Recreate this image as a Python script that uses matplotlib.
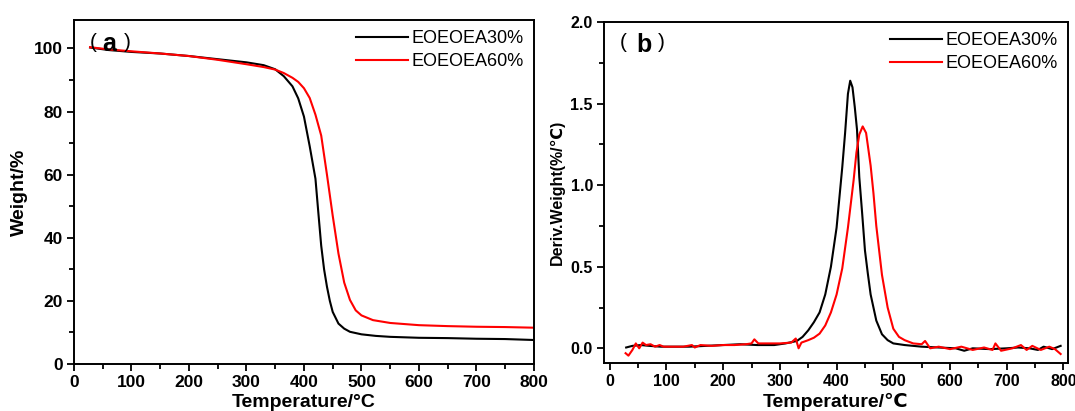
import matplotlib
matplotlib.use('Agg')
import matplotlib.pyplot as plt
from matplotlib.ticker import MultipleLocator

plt.rcParams['font.family'] = ['Liberation Sans', 'DejaVu Sans', 'Noto Sans CJK SC']

labels = ['EOEOEA30%', 'EOEOEA60%']

# TGA: weight remaining vs temperature
tga_t30 = [28, 60, 100, 150, 200, 250, 300, 330, 350, 365, 380, 390, 400, 410, 420,
           425, 430, 435, 440, 445, 450, 460, 470, 480, 500, 525, 550, 600, 650, 700, 750, 800]
tga_w30 = [100.3, 99.5, 98.9, 98.4, 97.6, 96.6, 95.6, 94.7, 93.4, 91.2, 88.0, 84.2, 78.4, 69.0, 58.7,
           48.0, 37.5, 30.0, 24.5, 20.0, 16.5, 12.8, 11.2, 10.2, 9.4, 8.9, 8.6, 8.3, 8.2, 8.0, 7.9, 7.6]
tga_t60 = [28, 60, 100, 150, 200, 250, 300, 330, 350, 365, 380, 390, 400, 410, 420,
           430, 440, 445, 450, 455, 460, 470, 480, 490, 500, 520, 550, 600, 650, 700, 750, 800]
tga_w60 = [100.4, 99.7, 99.1, 98.4, 97.6, 96.4, 95.0, 94.1, 93.3, 92.2, 90.7, 89.4, 87.4, 84.3, 79.0,
           72.4, 60.0, 53.5, 47.0, 41.0, 35.0, 25.8, 20.3, 17.0, 15.4, 13.9, 13.0, 12.3, 12.0, 11.8, 11.7, 11.5]

# DTG: derivative weight vs temperature
dtg_t30 = [29, 40, 55, 70, 90, 110, 140, 170, 200, 230, 260, 290, 310, 330, 340, 350,
           360, 370, 380, 390, 400, 410, 415, 420, 424, 428, 432, 436, 440, 445, 450, 455,
           460, 470, 480, 490, 500, 520, 550, 580, 610, 625, 640, 670, 700, 720, 740, 755,
           765, 780, 795]
dtg_w30 = [0.005, 0.015, 0.02, 0.015, 0.01, 0.01, 0.01, 0.015, 0.02, 0.025, 0.02, 0.02, 0.03, 0.045, 0.07, 0.11,
           0.16, 0.22, 0.33, 0.50, 0.74, 1.11, 1.32, 1.56, 1.64, 1.60, 1.48, 1.34, 1.05, 0.83, 0.60, 0.46,
           0.33, 0.17, 0.086, 0.05, 0.03, 0.02, 0.01, 0.005, 0.0, -0.015, 0.0, -0.005, 0.0, 0.005, 0.0, -0.01,
           0.01, -0.005, 0.015]
dtg_t60 = [28, 33, 40, 46, 52, 58, 64, 72, 80, 88, 95, 110, 130, 145, 150, 160, 180, 200, 220,
           240, 250, 255, 262, 280, 300, 320, 328, 333, 338, 350, 360, 370, 380, 390, 400, 410,
           420, 430, 435, 440, 446, 452, 460, 465, 470, 480, 490, 500, 510, 520, 535, 550, 556,
           565, 580, 600, 620, 640, 660, 675, 680, 690, 710, 725, 735, 745, 760, 775, 785, 795]
dtg_w60 = [-0.03, -0.045, -0.01, 0.03, 0.0, 0.035, 0.02, 0.025, 0.01, 0.02, 0.01, 0.01, 0.01, 0.02, 0.005,
           0.02, 0.015, 0.02, 0.02, 0.025, 0.03, 0.055, 0.03, 0.03, 0.03, 0.035, 0.06, 0.0, 0.035, 0.05,
           0.065, 0.09, 0.14, 0.22, 0.33, 0.49, 0.74, 1.03, 1.20, 1.31, 1.36, 1.32, 1.12, 0.95, 0.75,
           0.45, 0.25, 0.12, 0.07, 0.05, 0.03, 0.025, 0.045, 0.0, 0.01, -0.005, 0.01, -0.01, 0.005, -0.01,
           0.03, -0.015, 0.0, 0.02, -0.01, 0.015, -0.01, 0.01, -0.005, -0.035]

W, H = 1075, 411
fig = plt.figure(figsize=(W / 100, H / 100), dpi=100)
ax1 = fig.add_axes([0.0688, 0.1144, 0.4279, 0.8368])
ax2 = fig.add_axes([0.5619, 0.1168, 0.4316, 0.8297])

ax1.plot(tga_t30, tga_w30, color='black', lw=1.5, label=labels[0])
ax1.plot(tga_t60, tga_w60, color='red', lw=1.5, label=labels[1])
ax2.plot(dtg_t30, dtg_w30, color='black', lw=1.5, label=labels[0])
ax2.plot(dtg_t60, dtg_w60, color='red', lw=1.5, label=labels[1])

ax1.set_xlim(0, 800)
ax1.set_ylim(0, 109)
ax1.yaxis.set_major_locator(MultipleLocator(20))
ax1.yaxis.set_minor_locator(MultipleLocator(10))
ax2.set_xlim(-10, 808)
ax2.set_ylim(-0.09, 2.0)
ax2.yaxis.set_major_locator(MultipleLocator(0.5))
ax2.yaxis.set_minor_locator(MultipleLocator(0.25))

for ax, size in ((ax1, 12.5), (ax2, 11.5)):
    ax.xaxis.set_major_locator(MultipleLocator(100))
    ax.xaxis.set_minor_locator(MultipleLocator(50))
    ax.tick_params(which='both', direction='out', width=1.3, top=False, right=False)
    ax.tick_params(which='major', length=5, pad=3, labelsize=size)
    ax.tick_params(which='minor', length=3.5)
    for lbl in ax.get_xticklabels() + ax.get_yticklabels():
        lbl.set_fontweight('bold')
    for sp in ax.spines.values():
        sp.set_linewidth(1.4)
    ax.legend(loc='upper right', frameon=False, fontsize=13, handlelength=2.9,
              handletextpad=0.2, borderaxespad=0.15, labelspacing=0.35)

ax1.set_xlabel('Temperature/°C', fontsize=14, fontweight='bold', labelpad=2.5)
ax1.set_ylabel('Weight/%', fontsize=14, fontweight='bold', labelpad=4)
ax2.set_xlabel('Temperature/℃', fontsize=14, fontweight='bold', labelpad=2.5)
ax2.set_ylabel('Deriv.Weight(%/℃)', fontsize=11.5, fontweight='bold', labelpad=4)


def panel_tag(letter, x_open, x_letter, x_close, y_mid, y_base):
    # thin parentheses around a bold letter, placed in pixel positions
    fig.text(x_open / W, 1 - y_mid / H, '(', fontsize=15, va='center', ha='left')
    fig.text(x_letter / W, 1 - y_base / H, letter, fontsize=18, fontweight='bold',
             va='baseline', ha='left')
    fig.text(x_close / W, 1 - y_mid / H, ')', fontsize=15, va='center', ha='left')


panel_tag('a', 90, 102, 124, 42.5, 51)
panel_tag('b', 620, 636, 658, 43, 52)

fig.savefig('out.png', dpi=100)
